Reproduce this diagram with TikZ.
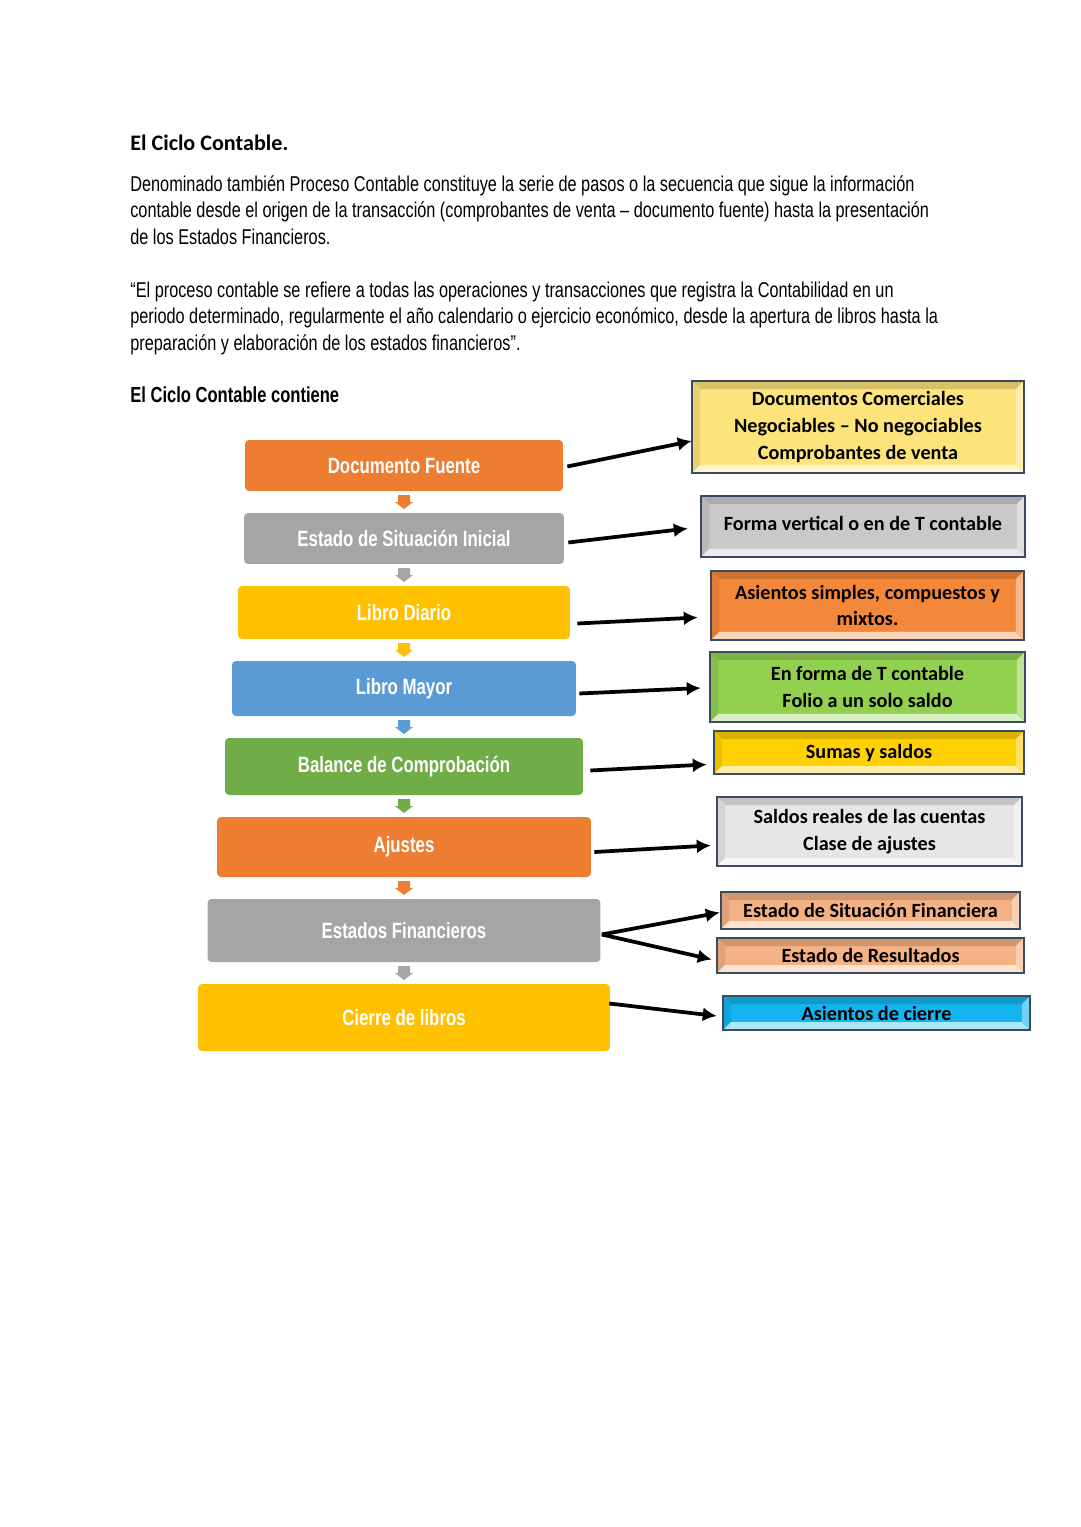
\documentclass[tikz,border=0pt]{standalone}
\usepackage{fontspec}
\usepackage{xcolor}
\usepackage{tikz}
\usetikzlibrary{calc,arrows.meta}
\newfontfamily\narrowfont{Liberation Sans}[FakeStretch=0.76]
\newfontfamily\calfont{Carlito}
\definecolor{naranja}{HTML}{ED7D31}
\definecolor{gris}{HTML}{A5A5A5}
\definecolor{oro}{HTML}{FFC000}
\definecolor{azul}{HTML}{5B9BD5}
\definecolor{verde}{HTML}{70AD47}
\definecolor{borde}{HTML}{3E4B5E}
\definecolor{amarillo}{HTML}{FCE37A}
\definecolor{plata}{HTML}{C9C9C9}
\definecolor{naranjab}{HTML}{F3883A}
\definecolor{lima}{HTML}{92D050}
\definecolor{dorado}{HTML}{FFD100}
\definecolor{perla}{HTML}{E6E6E6}
\definecolor{durazno}{HTML}{F4B183}
\definecolor{celeste}{HTML}{14B4EE}

\begin{document}
\begin{tikzpicture}[x=0.02cm,y=-0.02cm,
		paso/.style={rounded corners=0.08cm, fill=#1, text=white, inner sep=0pt, font=\narrowfont\bfseries\fontsize{12.6}{15}\selectfont},
		caja/.style={draw=borde, line width=0.05cm, fill=#1, inner sep=0pt, align=center, font=\calfont\bfseries\fontsize{11.5}{15.2}\selectfont,
			path picture={
				\coordinate (nw) at (path picture bounding box.north west);
				\coordinate (ne) at (path picture bounding box.north east);
				\coordinate (sw) at (path picture bounding box.south west);
				\coordinate (se) at (path picture bounding box.south east);
				\fill[#1!85!black] (nw) -- (ne) -- ($(ne)+(-8,8)$) -- ($(nw)+(8,8)$) -- cycle;
				\fill[#1!92!black] (nw) -- (sw) -- ($(sw)+(8,-8)$) -- ($(nw)+(8,8)$) -- cycle;
				\fill[#1!35!white] (sw) -- (se) -- ($(se)+(-8,-8)$) -- ($(sw)+(8,-8)$) -- cycle;
				\fill[#1!60!white] (ne) -- (se) -- ($(se)+(-8,-8)$) -- ($(ne)+(-8,8)$) -- cycle;
			}},
		flecha/.style={line width=0.075cm, -{Latex[length=0.28cm,width=0.28cm]}},
		pics/bajada/.style={code={\fill[#1] (-6,-7) -- (6,-7) -- (6,0) -- (9,0) -- (0,7) -- (-9,0) -- (-6,0) -- cycle;}}]
	\useasboundingbox (0,0) rectangle (1080,1527);
	\fill[white] (0,0) rectangle (1080,1527);

	\node[anchor=base west, inner sep=0pt, font=\calfont\bfseries\fontsize{12.6}{16}\selectfont] (titulo) at (130,151) {El Ciclo Contable.};
	\node[anchor=base west, inner sep=0pt, font=\narrowfont\fontsize{12.2}{15}\selectfont] (p1a) at (130,192) {Denominado también Proceso Contable constituye la serie de pasos o la secuencia que sigue la información};
	\node[anchor=base west, inner sep=0pt, font=\narrowfont\fontsize{12.2}{15}\selectfont] (p1b) at (130,218) {contable desde el origen de la transacción (comprobantes de venta – documento fuente) hasta la presentación};
	\node[anchor=base west, inner sep=0pt, font=\narrowfont\fontsize{12.2}{15}\selectfont] (p1c) at (130,245) {de los Estados Financieros.};
	\node[anchor=base west, inner sep=0pt, font=\narrowfont\fontsize{12.2}{15}\selectfont] (p2a) at (130,297) {“El proceso contable se refiere a todas las operaciones y transacciones que registra la Contabilidad en un};
	\node[anchor=base west, inner sep=0pt, font=\narrowfont\fontsize{12.2}{15}\selectfont] (p2b) at (130,323) {periodo determinado, regularmente el año calendario o ejercicio económico, desde la apertura de libros hasta la};
	\node[anchor=base west, inner sep=0pt, font=\narrowfont\fontsize{12.2}{15}\selectfont] (p2c) at (130,350) {preparación y elaboración de los estados financieros”.};
	\node[anchor=base west, inner sep=0pt, font=\narrowfont\bfseries\fontsize{12.4}{15}\selectfont] (contiene) at (130,402) {El Ciclo Contable contiene};

	\node[paso=naranja, minimum width=6.36cm, minimum height=1.02cm] (lb1) at (404,465.5) {Documento Fuente};
	\node[paso=gris, minimum width=6.40cm, minimum height=1.02cm] (lb2) at (404,538.5) {Estado de Situación Inicial};
	\node[paso=oro, minimum width=6.64cm, minimum height=1.06cm] (lb3) at (404,612.5) {Libro Diario};
	\node[paso=azul, minimum width=6.88cm, minimum height=1.10cm] (lb4) at (404,688.5) {Libro Mayor};
	\node[paso=verde, minimum width=7.16cm, minimum height=1.14cm] (lb5) at (404,766.5) {Balance de Comprobación};
	\node[paso=naranja, minimum width=7.48cm, minimum height=1.20cm] (lb6) at (404,847) {Ajustes};
	\node[paso=gris, minimum width=7.86cm, minimum height=1.26cm] (lb7) at (404,930.5) {Estados Financieros};
	\node[paso=oro, minimum width=8.24cm, minimum height=1.34cm] (lb8) at (404,1017.5) {Cierre de libros};

	\pic at ($(lb1.south)!0.5!(lb2.north)$) {bajada=naranja};
	\pic at ($(lb2.south)!0.5!(lb3.north)$) {bajada=gris};
	\pic at ($(lb3.south)!0.5!(lb4.north)$) {bajada=oro};
	\pic at ($(lb4.south)!0.5!(lb5.north)$) {bajada=azul};
	\pic at ($(lb5.south)!0.5!(lb6.north)$) {bajada=verde};
	\pic at ($(lb6.south)!0.5!(lb7.north)$) {bajada=naranja};
	\pic at ($(lb7.south)!0.5!(lb8.north)$) {bajada=gris};

	\node[caja=amarillo, minimum width=6.64cm, minimum height=1.84cm] (rb1) at (858,427) {Documentos Comerciales\\Negociables – No negociables\\Comprobantes de venta};
	\node[caja=plata, minimum width=6.48cm, minimum height=1.22cm] (rb2) at (863,526.5) {\raisebox{0.12cm}{Forma vertical o en de T contable}};
	\node[caja=naranjab, minimum width=6.26cm, minimum height=1.38cm] (rb3) at (867.5,605.5) {Asientos simples, compuestos y\\mixtos.};
	\node[caja=lima, minimum width=6.30cm, minimum height=1.40cm] (rb4) at (867.5,687) {En forma de T contable\\Folio a un solo saldo};
	\node[caja=dorado, minimum width=6.20cm, minimum height=0.86cm] (rb5) at (869,752.5) {Sumas y saldos};
	\node[caja=perla, minimum width=6.10cm, minimum height=1.38cm] (rb6) at (869.5,831.5) {Saldos reales de las cuentas\\Clase de ajustes};
	\node[caja=durazno, minimum width=5.98cm, minimum height=0.74cm] (rb7) at (870.5,910.5) {Estado de Situación Financiera};
	\node[caja=durazno, minimum width=6.14cm, minimum height=0.70cm] (rb8) at (870.5,955.5) {Estado de Resultados};
	\node[caja=celeste, minimum width=6.14cm, minimum height=0.68cm] (rb9) at (876.5,1013) {Asientos de cierre};

	\draw[flecha] ($(lb1.east)+(4,1)$) -- ($(rb1.west)+(1,14)$);
	\draw[flecha] ($(lb2.east)+(4,4)$) -- ($(rb2.west)+(-12,2)$);
	\draw[flecha] ($(lb3.east)+(7,11)$) -- ($(rb3.west)+(-12,12)$);
	\draw[flecha] ($(lb4.east)+(3,5)$) -- ($(rb4.west)+(-8,1)$);
	\draw[flecha] ($(lb5.east)+(7,4)$) -- ($(rb5.west)+(-6,12)$);
	\draw[flecha] ($(lb6.east)+(3,5)$) -- ($(rb6.west)+(-5,14)$);
	\draw[flecha] ($(lb7.east)+(1,4)$) -- ($(rb7.west)+(0,2)$);
	\draw[flecha] ($(lb7.east)+(1,4)$) -- ($(rb8.west)+(-4,4)$);
	\draw[flecha] ($(lb8.east)+(-1,-14)$) -- ($(rb9.west)+(-5,3)$);
\end{tikzpicture}
\end{document}
